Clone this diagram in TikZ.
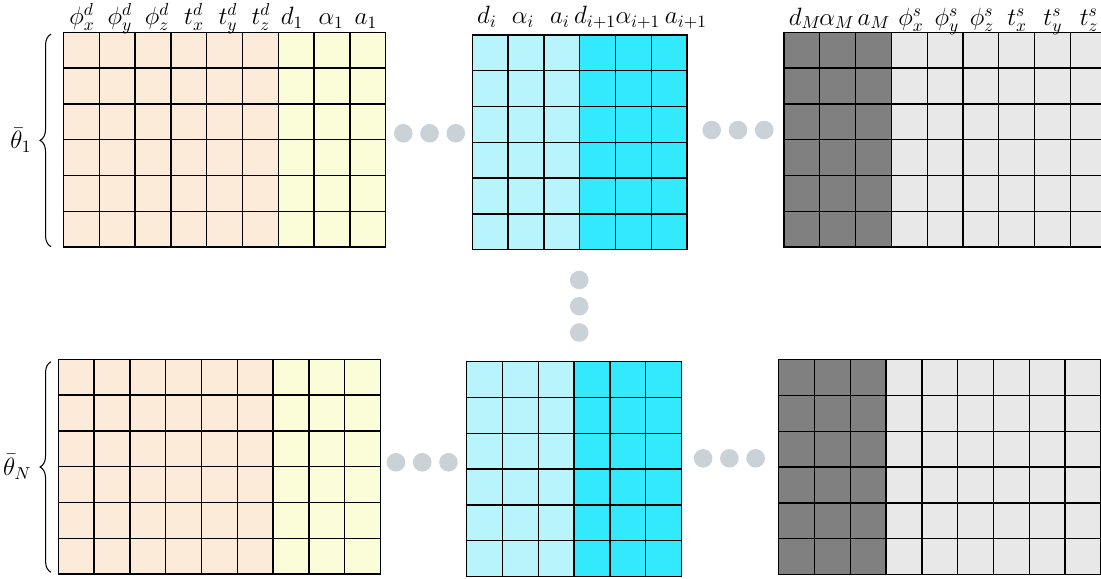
\documentclass[tikz,border=0pt]{standalone}
\usepackage{amsmath}
\usepackage{xcolor}
\usetikzlibrary{positioning,decorations.pathreplacing}
\definecolor{peach}{RGB}{253,235,218}
\definecolor{lemon}{RGB}{251,253,217}
\definecolor{skylight}{RGB}{183,244,252}
\definecolor{skydark}{RGB}{51,233,253}
\definecolor{greydark}{RGB}{128,128,128}
\definecolor{greylight}{RGB}{232,232,232}
\definecolor{dotgrey}{RGB}{202,210,216}

% bloque de 6 filas: x, y, columnas izq., color izq., columnas der., color der.
\newcommand{\paramblock}[6]{%
  \begin{scope}[shift={(#1,#2)}]
    \pgfmathtruncatemacro\ncols{#3+#5}
    \fill[#4] (0,0) rectangle (#3,6);
    \fill[#6] (#3,0) rectangle (\ncols,6);
    \foreach \r in {0,...,6} \draw[gridline] (0,\r) -- (\ncols,\r);
    \foreach \c in {0,...,\ncols} \draw[gridline] (\c,0) -- (\c,6);
  \end{scope}}

\begin{document}
\begin{tikzpicture}[x=20.585pt, y=20.585pt,
            gridline/.style={black, line width=0.8pt, line cap=rect},
            dot/.style={circle, fill=dotgrey, minimum size=10.7pt, inner sep=0pt},
            lbl/.style={anchor=base, inner sep=0pt, font=\fontsize{13.6pt}{16pt}\selectfont},
            bracket/.style={decorate, decoration={brace, amplitude=6.3pt}, line width=0.6pt}]

            \useasboundingbox (0,0) rectangle (30.754,16.173);

            % Bloques superiores
            \paramblock{1.774}{9.271}{6}{peach}{3}{lemon}
            \paramblock{13.193}{9.196}{3}{skylight}{3}{skydark}
            \paramblock{21.899}{9.271}{3}{greydark}{6}{greylight}

            % Bloques inferiores
            \paramblock{1.628}{0.137}{6}{peach}{3}{lemon}
            \paramblock{13.036}{0.070}{3}{skylight}{3}{skydark}
            \paramblock{21.751}{0.126}{3}{greydark}{6}{greylight}

            % Etiquetas de columnas
            \foreach \lx/\lt [count=\k] in {2.29/{\phi^d_x}, 3.35/{\phi^d_y}, 4.39/{\phi^d_z},
                5.42/{t^d_x}, 6.37/{t^d_y}, 7.29/{t^d_z}, 8.16/{d_1}, 9.25/{\alpha_1}, 10.22/{a_1}}
                \node[lbl] (first\k) at (\lx,15.49) {$\lt$};
            \foreach \lx/\lt [count=\k] in {13.60/{d_i}, 14.61/{\alpha_i}, 15.64/{a_i},
                16.62/{d_{i+1}}, 17.82/{\alpha_{i+1}}, 19.16/{a_{i+1}}}
                \node[lbl] (mid\k) at (\lx,15.52) {$\lt$};
            \foreach \lx/\lt [count=\k] in {22.49/{d_M}, 23.38/{\alpha_M}, 24.41/{a_M},
                25.45/{\phi^s_x}, 26.45/{\phi^s_y}, 27.43/{\phi^s_z}, 28.41/{t^s_x}, 29.41/{t^s_y}, 30.42/{t^s_z}}
                \node[lbl] (last\k) at (\lx,15.47) {$\lt$};

            % Llaves
            \draw[bracket] (1.425,9.282) -- (1.425,15.22)
                node[midway, left=11pt, inner sep=0pt] (theta1) {\Large$\bar{\theta}_1$};
            \draw[bracket] (1.425,0.187) -- (1.425,6.07)
                node[midway, left=11pt, inner sep=0pt] (thetaN) {\Large$\bar{\theta}_N$};

            % Puntos suspensivos
            \node[dot] (dotA1) at (11.265,12.45) {};
            \node[dot, right=4pt of dotA1] (dotA2) {};
            \node[dot, right=4pt of dotA2] (dotA3) {};
            \node[dot] (dotB1) at (19.88,12.54) {};
            \node[dot, right=4pt of dotB1] (dotB2) {};
            \node[dot, right=4pt of dotB2] (dotB3) {};
            \node[dot] (dotC1) at (16.18,8.352) {};
            \node[dot, below=4pt of dotC1] (dotC2) {};
            \node[dot, below=4pt of dotC2] (dotC3) {};
            \node[dot] (dotD1) at (11.06,3.26) {};
            \node[dot, right=4pt of dotD1] (dotD2) {};
            \node[dot, right=4pt of dotD2] (dotD3) {};
            \node[dot] (dotE1) at (19.64,3.37) {};
            \node[dot, right=4pt of dotE1] (dotE2) {};
            \node[dot, right=4pt of dotE2] (dotE3) {};

        \end{tikzpicture}
\end{document}
